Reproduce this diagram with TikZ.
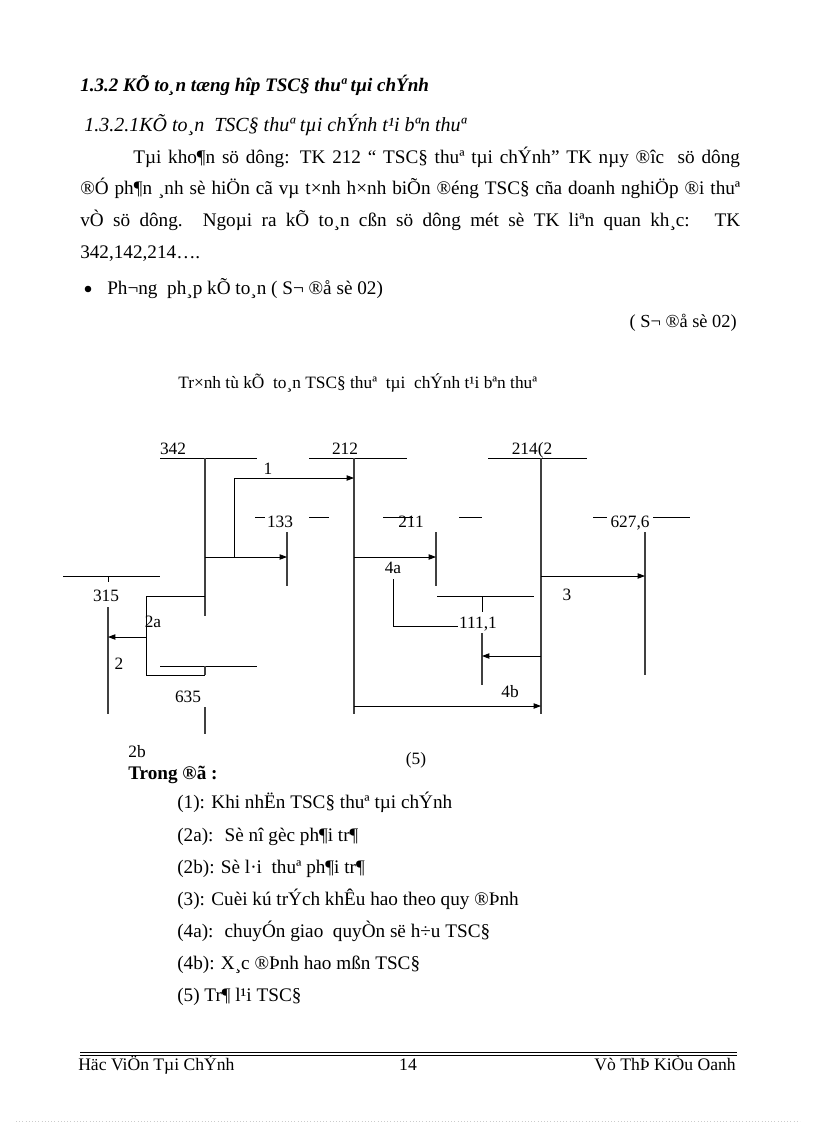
\documentclass[tikz,border=0pt]{standalone}
\usepackage{fontspec}
\setmainfont{Liberation Serif}
\usetikzlibrary{arrows.meta}

\begin{document}
\begin{tikzpicture}[x=0.75pt,y=-0.75pt,
  tline/.style={line width=0.6pt},
  stem/.style={line width=1pt,black!75},
  flow/.style={line width=0.6pt,-{Triangle[length=5.5pt,width=4pt]}},
  num/.style={font=\fontsize{13}{15}\selectfont,inner sep=0pt,anchor=base},
  body/.style={font=\fontsize{14.4}{17}\selectfont,inner sep=0pt,anchor=base west}]
\useasboundingbox[fill=white] (0,0) rectangle (816,1123);

% headings and text
\node[body,font=\fontsize{14.3}{17}\selectfont\bfseries\itshape] (head) at (80,92) {1.3.2 KÕ to¸n tæng hîp TSC§ thuª tµi chÝnh};
\node[body,font=\fontsize{15}{17}\selectfont\itshape] (subhead) at (84,132) {1.3.2.1KÕ to¸n \ TSC§ thuª tµi chÝnh t¹i bªn thuª};
\node[body] (par1) at (133,164) {\makebox[455pt][s]{Tµi kho¶n sö dông: TK 212 “ TSC§ thuª tµi chÝnh” TK nµy ®îc \ sö dông}};
\node[body] (par2) at (80,195) {\makebox[495pt][s]{®Ó ph¶n ¸nh sè hiÖn cã vµ t×nh h×nh biÕn ®éng TSC§ cña doanh nghiÖp ®i thuª}};
\node[body] (par3) at (80,227) {\makebox[495pt][s]{vÒ sö dông. Ngoµi ra kÕ to¸n cßn sö dông mét sè TK liªn quan kh¸c: \ TK}};
\node[body] (par4) at (80,258) {342,142,214….};
\fill (88,289) circle (3.3);
\node[body] (method) at (107,294) {Ph¬ng \ ph¸p kÕ to¸n ( S¬ ®å sè 02)};
\node[body,font=\fontsize{13.8}{16}\selectfont,anchor=base east] (schema) at (737,327) {( S¬ ®å sè 02)};
\node[body,font=\fontsize{13}{16}\selectfont] (title) at (178,388) {Tr×nh tù kÕ \ to¸n TSC§ thuª \ tµi \ chÝnh t¹i bªn thuª};

% T accounts
\draw[tline] (160,458) -- (257,458);
\draw[stem] (205,458) -- (205,616);
\draw[tline] (309,458) -- (407,458);
\draw[stem] (354,458) -- (354,714);
\draw[tline] (488,458) -- (587,458);
\draw[stem] (541,458) -- (541,714);
\draw[tline] (255,517) -- (265,517) (309,517) -- (329,517);
\draw[stem] (287,532) -- (287,586);
\draw[tline] (383,517) -- (413,517) (459,517) -- (482,517);
\draw[stem] (436,532) -- (436,586);
\draw[tline] (593,517) -- (607,517) (653,517) -- (690,517);
\draw[stem] (645,532) -- (645,675);
\draw[tline] (63,576) -- (160,576) (108,576) -- (108,582);
\draw[stem] (108,607) -- (108,714);
\draw[tline] (437,596) -- (534,596) (482,596) -- (482,612);
\draw[stem] (482,633) -- (482,685);
\draw[tline] (160,666) -- (257,666);
\draw[stem] (205,666) -- (205,675) (205,707) -- (205,734);

% account labels
\node[num] (a342) at (173,454) {342};
\node[num] (a212) at (345,454) {212};
\node[num] (a214) at (532,454) {214(2};
\node[num] (a133) at (280,527) {133};
\node[num] (a211) at (411,527) {211};
\node[num] (a627) at (630,527) {627,6};
\node[num] (a315) at (106,601) {315};
\node[num] (a111) at (478,628) {111,1};
\node[num] (a635) at (188,702) {635};

% entries
\draw[flow] (205,557) -- (287,557);
\draw[flow] (234,557) -- (234,478) -- (354,478);
\draw[flow] (354,557) -- (436,557);
\draw[tline] (393,579) -- (393,626) -- (458,626);
\draw[flow] (541,576) -- (645,576);
\draw[flow] (541,656) -- (482,656);
\draw[flow] (354,706) -- (541,706);
\draw[tline] (205,596) -- (146,596) -- (146,675) -- (205,675);
\draw[flow] (146,637) -- (108,637);

\node[num] (e1) at (268,474) {1};
\node[num] (e4a) at (393,573) {4a};
\node[num] (e3) at (567,600) {3};
\node[num] (e4b) at (510,697) {4b};
\node[num] (e2a) at (153,627) {2a};
\node[num] (e2) at (119,669) {2};
\node[num] (e2b) at (137,757) {2b};
\node[num] (e5) at (416,764) {(5)};

% legend
\node[body,font=\fontsize{14.4}{17}\selectfont\bfseries] (legend) at (128,779) {Trong ®ã :};
\node[body] (l1) at (177,808) {(1): Khi nhËn TSC§ thuª tµi chÝnh};
\node[body] (l2) at (177,841) {(2a): \ Sè nî gèc ph¶i tr¶};
\node[body] (l3) at (177,873) {(2b): Sè l·i \ thuª ph¶i tr¶};
\node[body] (l4) at (177,905) {(3): Cuèi kú trÝch khÊu hao theo quy ®Þnh};
\node[body] (l5) at (177,937) {(4a): \ chuyÓn giao \ quyÒn së h÷u TSC§};
\node[body] (l6) at (177,969) {(4b): X¸c ®Þnh hao mßn TSC§};
\node[body] (l7) at (177,1001) {(5) Tr¶ l¹i TSC§};

% footer
\draw[line width=0.6pt] (80,1052) -- (737,1052) (80,1055) -- (737,1055);
\node[body,font=\fontsize{13.2}{15}\selectfont] (foot1) at (78,1070) {Häc ViÖn Tµi ChÝnh};
\node[body,font=\fontsize{13.2}{15}\selectfont,anchor=base] (foot2) at (408,1070) {14};
\node[body,font=\fontsize{13.2}{15}\selectfont,anchor=base east] (foot3) at (736,1070) {Vò ThÞ KiÒu Oanh};
\draw[black!20,dotted] (16,1121) -- (800,1121);
\end{tikzpicture}
\end{document}
